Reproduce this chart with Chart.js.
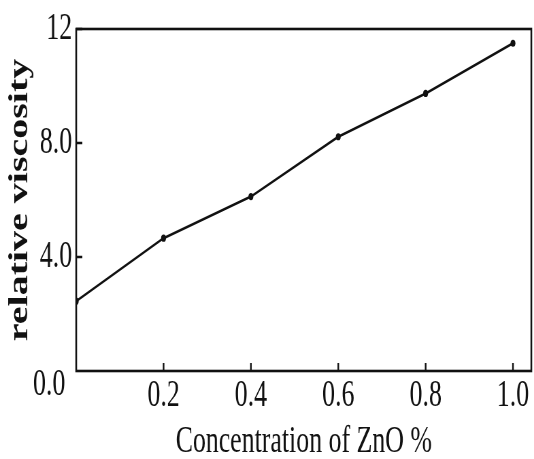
<!DOCTYPE html>
<html>
<head>
<meta charset="utf-8">
<script src="https://cdn.jsdelivr.net/npm/chart.js@4"></script>
<style>
  html,body{margin:0;padding:0;background:#fff;overflow:hidden}
  #wrap{width:534px;height:459px;overflow:hidden}
  /* the reference is squeezed sideways, so draw wide and squeeze */
  #chart{width:785px;height:459px;transform:scaleX(0.6803);transform-origin:0 0;display:block}
</style>
</head>
<body>
<div id="wrap"><canvas id="chart" width="785" height="459"></canvas></div>
<script>
/* -------------------------- data -------------------------- */
const concentration = [0, 0.2, 0.4, 0.6, 0.8, 1.0];
const viscosity     = [2.45, 4.66, 6.12, 8.22, 9.74, 11.5];

const xTickValues = [0.2, 0.4, 0.6, 0.8, 1.0];
const yTickValues = [4, 8, 12];
const yTickLabels = {4:"4.0", 8:"8.0", 12:"12"};
const originLabel = "0.0";

const xTitle = "Concentration of ZnO %";
const yTitle = "relative viscosity";

const SERIF = "'Liberation Serif','Times New Roman',serif";
const INK = "#111";

/* -------------------------- frame + inward ticks -------------------------- */
const framePlugin = {
  id: "frame",
  afterDatasetsDraw(chart){
    const {ctx, chartArea:a, scales:{x, y}} = chart;
    ctx.save();
    ctx.strokeStyle = INK;
    ctx.lineWidth = 2.6;
    ctx.strokeRect(a.left, a.top, a.right - a.left, a.bottom - a.top);
    ctx.lineWidth = 2.4;
    ctx.beginPath();
    xTickValues.forEach(v=>{ const px = x.getPixelForValue(v); ctx.moveTo(px, a.bottom); ctx.lineTo(px, a.bottom - 8); });
    yTickValues.forEach(v=>{ const py = y.getPixelForValue(v); ctx.moveTo(a.left, py); ctx.lineTo(a.left + 9, py); });
    ctx.stroke();
    // origin label sits a bit under the corner
    ctx.fillStyle = INK;
    ctx.font = "38px " + SERIF;
    ctx.textAlign = "right";
    ctx.textBaseline = "middle";
    ctx.fillText(originLabel, a.left - 16, y.getPixelForValue(0) + 14);
    ctx.restore();
  }
};

new Chart(document.getElementById("chart"), {
  type: "line",
  data: {
    datasets: [{
      data: concentration.map((c,i)=>({x:c, y:viscosity[i]})),
      borderColor: INK, borderWidth: 2.6,
      pointRadius: 3.6, pointBackgroundColor: INK, pointBorderColor: INK, pointBorderWidth: 0,
      tension: 0, fill: false
    }]
  },
  options: {
    responsive: false, animation: false, devicePixelRatio: 1,
    layout: { padding: { top: 29, right: 3, left: 0, bottom: 0 } },
    plugins: { legend: { display: false }, tooltip: { enabled: false } },
    scales: {
      x: {
        type: "linear", min: 0, max: 1.042,
        afterBuildTicks: s => { s.ticks = xTickValues.map(v=>({value:v})); },
        afterFit: s => { s.height = 88; },
        grid: { display: false, drawTicks: false },
        border: { display: false },
        ticks: { color: INK, padding: 6, maxRotation: 0, font: { family: SERIF, size: 38, lineHeight: 1.0 },
                 callback: v => v.toFixed(1) },
        title: { display: true, text: xTitle, color: INK, padding: 0,
                 font: { family: SERIF, size: 38, lineHeight: 0.9 } }
      },
      y: {
        type: "linear", min: 0, max: 12,
        afterBuildTicks: s => { s.ticks = yTickValues.map(v=>({value:v})); },
        afterFit: s => { s.width = 112; },
        grid: { display: false, drawTicks: false },
        border: { display: false },
        ticks: { color: INK, padding: 6, font: { family: SERIF, size: 38 },
                 callback: v => yTickLabels[v] },
        title: { display: true, text: yTitle, color: INK, padding: { top: 6, bottom: 0 },
                 font: { family: SERIF, size: 40, weight: "bold" } }
      }
    }
  },
  plugins: [framePlugin]
});
</script>
</body>
</html>
